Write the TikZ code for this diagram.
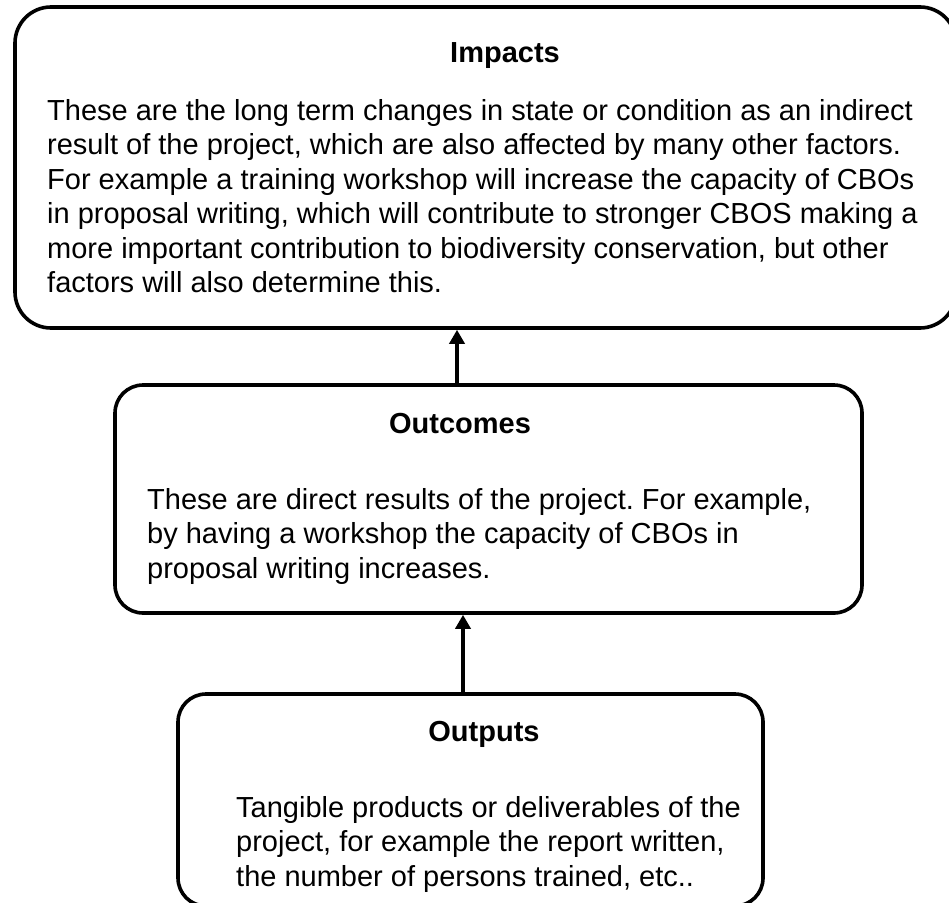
\documentclass[tikz,border=0pt]{standalone}
\usepackage{fontspec}
\setmainfont{Liberation Sans}
\usetikzlibrary{arrows.meta}
\frenchspacing
\begin{document}
\begin{tikzpicture}[x=1pt,y=-1pt,
  box/.style={draw=black,line width=3.6pt,rounded corners=#1,inner sep=0pt},
  box/.default=28pt,
  ttl/.style={font=\fontsize{29}{34.5}\selectfont\bfseries,anchor=base,inner sep=0pt},
  body/.style={font=\fontsize{29}{34.5}\selectfont,anchor=base west,inner sep=0pt},
  arr/.style={line width=3.6pt,-{Triangle[length=14pt,width=15pt]}}]
\useasboundingbox (0,0) rectangle (949,902);
\clip (0,0) rectangle (949,902);
% boxes
\node[box=36pt,minimum width=941pt,minimum height=321pt] (impacts) at (485.5,167.5) {};
\node[box,minimum width=747pt,minimum height=228pt] (outcomes) at (488.5,499) {};
\node[box,minimum width=585pt,minimum height=212pt] (outputs) at (470.5,800) {};
% texts
\node[ttl] (impT) at (505,62) {Impacts};
\node[body] (impB) at (47,120) {\parbox[t]{900pt}{These are the long term changes in state or condition as an indirect\\
result of the project, which are also affected by many other factors.\\
For example a training workshop will increase the capacity of CBOs\\
in proposal writing, which will contribute to stronger CBOS making a\\
more important contribution to biodiversity conservation, but other\\
factors will also determine this.}};
\node[ttl] (outcT) at (460,433) {Outcomes};
\node[body] (outcB) at (147,509) {\parbox[t]{700pt}{These are direct results of the project. For example,\\
by having a workshop the capacity of CBOs in\\
proposal writing increases.}};
\node[ttl] (outpT) at (484,741) {Outputs};
\node[body] (outpB) at (236,817) {\parbox[t]{520pt}{Tangible products or deliverables of the\\
project, for example the report written,\\
the number of persons trained, etc..}};
% connectors
\coordinate (a1) at (457,0);
\coordinate (a2) at (463,0);
\draw[arr] (outcomes.north -| a1) -- (impacts.south -| a1);
\draw[arr] (outputs.north -| a2) -- (outcomes.south -| a2);
\end{tikzpicture}
\end{document}
